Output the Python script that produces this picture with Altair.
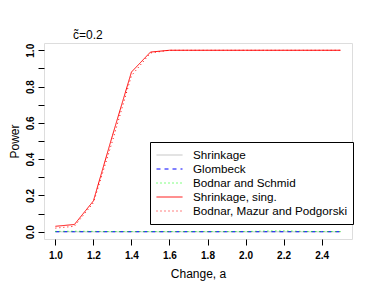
import altair as alt
import pandas as pd

change = [1.0, 1.1, 1.2, 1.3, 1.4, 1.5, 1.6, 1.7, 1.8, 1.9, 2.0, 2.1, 2.2, 2.3, 2.4, 2.5]
shrinkage = [0.0] * 16
glombeck = [0.0] * 16
bodnar_schmid = [0.002, 0.003, 0.002, 0.001, 0.001, 0.001, 0.001, 0.001, 0.001, 0.001, 0.001, 0.004, 0.005, 0.002, 0.001, 0.001]
shrink_sing = [0.03, 0.04, 0.17, 0.53, 0.88, 0.99, 1.0, 1.0, 1.0, 1.0, 1.0, 1.0, 1.0, 1.0, 1.0, 1.0]
bmp = [0.02, 0.03, 0.16, 0.50, 0.86, 0.985, 1.0, 1.0, 1.0, 1.0, 1.0, 1.0, 1.0, 1.0, 1.0, 1.0]

names = ["Shrinkage", "Glombeck", "Bodnar and Schmid", "Shrinkage, sing.", "Bodnar, Mazur and Podgorski"]
colors = ["#BEBEBE", "#0000FF", "#00FF00", "#FF0000", "#FF0000"]
dashes = [[1, 0], [4, 4], [1, 3], [1, 0], [1, 3]]
series = [shrinkage, glombeck, bodnar_schmid, shrink_sing, bmp]

rows = []
for i, (n, vals) in enumerate(zip(names, series)):
    for x, y in zip(change, vals):
        rows.append({"series": n, "k": i, "a": x, "power": y})
df = pd.DataFrame(rows)

font = "Liberation Sans"
yticks = [round(i * 0.1, 1) for i in range(11)]
xticks = [1.0, 1.2, 1.4, 1.6, 1.8, 2.0, 2.2, 2.4]

leg = alt.Legend(title=None, orient="none", legendX=106, legendY=99,
                 symbolType="M-1,0H3", symbolSize=169, symbolStrokeWidth=1,
                 symbolFillColor="transparent",
                 labelFont=font, labelFontSize=11.7, labelColor="black",
                 strokeColor="black", padding=6, rowPadding=0,
                 labelOffset=23, fillColor="white", labelLimit=300)

chart = alt.Chart(df).mark_line(strokeWidth=1, clip=True).encode(
    x=alt.X("a:Q", scale=alt.Scale(domain=[0.94, 2.56], nice=False, zero=False),
            axis=alt.Axis(values=xticks, format=".1f", title="Change, a", grid=False, domain=False,
                          tickColor="black", tickSize=6, labelPadding=5, labelFont=font,
                          labelFontSize=10, labelFontWeight="bold", labelColor="black",
                          titleFont=font, titleFontSize=12, titleFontWeight="normal",
                          titleColor="black", titlePadding=8, labelFlush=False)),
    y=alt.Y("power:Q", scale=alt.Scale(domain=[-0.04, 1.04], nice=False, zero=False),
            axis=alt.Axis(values=yticks, title="Power", grid=False, domain=False,
                          labelExpr="round(datum.value*10) % 2 ? '' : format(datum.value, '.1f')",
                          tickColor="black", tickSize=6, labelPadding=5, labelAngle=270,
                          labelAlign="center", labelBaseline="alphabetic", labelFont=font,
                          labelFontSize=10, labelFontWeight="bold", labelColor="black",
                          titleFont=font, titleFontSize=12, titleFontWeight="normal",
                          titleColor="black", titlePadding=4, labelFlush=False)),
    color=alt.Color("series:N", scale=alt.Scale(domain=names, range=colors), legend=leg),
    strokeDash=alt.StrokeDash("series:N", scale=alt.Scale(domain=names, range=dashes), legend=leg),
    order=alt.Order("k:Q"),
).properties(
    width=308, height=196,
    title=alt.TitleParams("c\u0303=0.2", anchor="start", frame="group", dx=29, offset=1, font=font,
                          fontSize=12, fontWeight="normal", color="black"),
    padding={"left": 36, "top": 35, "right": 14, "bottom": 55},
    autosize=alt.AutoSizeParams(type="none"),
).configure_view(stroke="black", strokeWidth=1).configure(background="white")

chart.save("out.html", embed_options={"renderer": "svg", "actions": False})
